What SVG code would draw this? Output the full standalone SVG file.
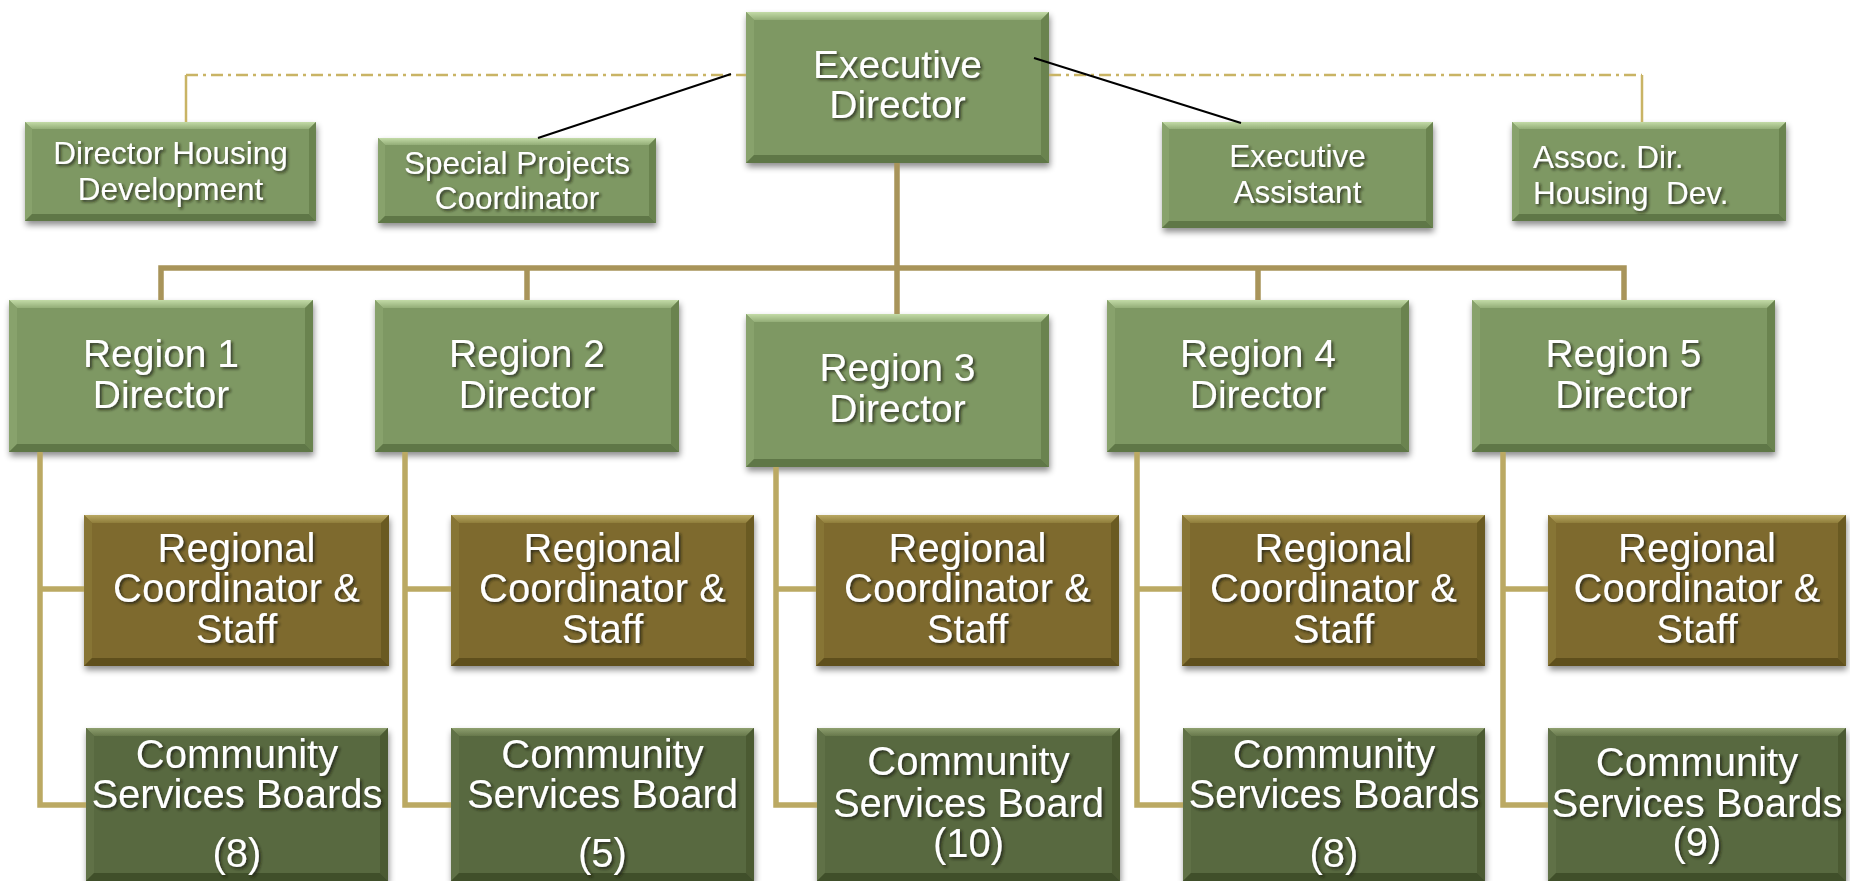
<svg xmlns="http://www.w3.org/2000/svg" width="1850" height="881" viewBox="0 0 1850 881">
<defs>
<linearGradient id="gTopG" x1="0" y1="0" x2="0" y2="1"><stop offset="0" stop-color="#c3dba7"/><stop offset="1" stop-color="#93ad77"/></linearGradient>
<linearGradient id="gTopO" x1="0" y1="0" x2="0" y2="1"><stop offset="0" stop-color="#b9a862"/><stop offset="1" stop-color="#8f7d3b"/></linearGradient>
<linearGradient id="gTopD" x1="0" y1="0" x2="0" y2="1"><stop offset="0" stop-color="#8fa070"/><stop offset="1" stop-color="#67784c"/></linearGradient>
<filter id="bs" x="-10%" y="-10%" width="125%" height="130%"><feDropShadow dx="1" dy="4" stdDeviation="3" flood-color="#000" flood-opacity="0.45"/></filter>
<filter id="ts" x="-10%" y="-20%" width="125%" height="150%"><feDropShadow dx="2" dy="2" stdDeviation="1.5" flood-color="#1a1a0a" flood-opacity="0.75"/></filter>
<style>
.fg{fill:#7e9863}.tg{fill:url(#gTopG)}.lg{fill:#88a26c}.rg{fill:#6a8350}.bg{fill:#5f7747}
.fo{fill:#7e6b2d}.to{fill:url(#gTopO)}.lo{fill:#877434}.ro{fill:#6b5a22}.bo{fill:#5f4f1b}
.fd{fill:#59693f}.td{fill:url(#gTopD)}.ld{fill:#617146}.rd{fill:#4b5a33}.bd{fill:#414f2b}
text{font-family:"Liberation Sans",Arial,sans-serif;fill:#fff;text-anchor:middle;filter:url(#ts)}
.s31{font-size:31.5px}.s39{font-size:39px}.s40{font-size:40px}
.bus{fill:none;stroke:#a8945a;stroke-width:5.5;stroke-linejoin:miter}
.sub{fill:none;stroke:#bba963;stroke-width:5.5;stroke-linejoin:miter}
.dd{fill:none;stroke:#c9b465;stroke-width:2.5;stroke-dasharray:12 5 3 5}
.thin{fill:none;stroke:#c9b465;stroke-width:2.5}
.blk{fill:none;stroke:#000;stroke-width:2}
</style>
</defs>
<rect width="1850" height="881" fill="#fff"/>

<g id="exec-director" transform="translate(746,12)">
<g filter="url(#bs)"><rect class="fg" width="303" height="151"/><polygon class="tg" points="0,0 303,0 295,8 8,8"/><polygon class="lg" points="0,0 8,8 8,143 0,151"/><polygon class="rg" points="303,0 303,151 295,143 295,8"/><polygon class="bg" points="0,151 8,143 295,143 303,151"/></g>
<text class="s39" x="151.5" y="66">Executive</text><text class="s39" x="151.5" y="106">Director</text>
</g>

<g id="dir-housing-dev" transform="translate(25,122)">
<g filter="url(#bs)"><rect class="fg" width="291" height="99"/><polygon class="tg" points="0,0 291,0 284,7 7,7"/><polygon class="lg" points="0,0 7,7 7,92 0,99"/><polygon class="rg" points="291,0 291,99 284,92 284,7"/><polygon class="bg" points="0,99 7,92 284,92 291,99"/></g>
<text class="s31" x="145.5" y="42">Director Housing</text><text class="s31" x="145.5" y="78">Development</text>
</g>

<g id="special-projects" transform="translate(378,138)">
<g filter="url(#bs)"><rect class="fg" width="278" height="85"/><polygon class="tg" points="0,0 278,0 271,7 7,7"/><polygon class="lg" points="0,0 7,7 7,78 0,85"/><polygon class="rg" points="278,0 278,85 271,78 271,7"/><polygon class="bg" points="0,85 7,78 271,78 278,85"/></g>
<text class="s31" x="139" y="36">Special Projects</text><text class="s31" x="139" y="71">Coordinator</text>
</g>

<g id="exec-assistant" transform="translate(1162,122)">
<g filter="url(#bs)"><rect class="fg" width="271" height="106"/><polygon class="tg" points="0,0 271,0 264,7 7,7"/><polygon class="lg" points="0,0 7,7 7,99 0,106"/><polygon class="rg" points="271,0 271,106 264,99 264,7"/><polygon class="bg" points="0,106 7,99 264,99 271,106"/></g>
<text class="s31" x="135.5" y="45">Executive</text><text class="s31" x="135.5" y="81">Assistant</text>
</g>

<g id="assoc-dir" transform="translate(1512,122)">
<g filter="url(#bs)"><rect class="fg" width="274" height="99"/><polygon class="tg" points="0,0 274,0 267,7 7,7"/><polygon class="lg" points="0,0 7,7 7,92 0,99"/><polygon class="rg" points="274,0 274,99 267,92 267,7"/><polygon class="bg" points="0,99 7,92 267,92 274,99"/></g>
<text class="s31" x="21" y="46" style="text-anchor:start">Assoc. Dir.</text><text class="s31" x="21" y="82" style="text-anchor:start;white-space:pre" xml:space="preserve">Housing  Dev.</text>
</g>

<g id="region1" transform="translate(9,300)">
<g filter="url(#bs)"><rect class="fg" width="304" height="152"/><polygon class="tg" points="0,0 304,0 296,8 8,8"/><polygon class="lg" points="0,0 8,8 8,144 0,152"/><polygon class="rg" points="304,0 304,152 296,144 296,8"/><polygon class="bg" points="0,152 8,144 296,144 304,152"/></g>
<text class="s39" x="152" y="67">Region 1</text><text class="s39" x="152" y="108">Director</text>
</g>
<g id="region2" transform="translate(375,300)">
<g filter="url(#bs)"><rect class="fg" width="304" height="152"/><polygon class="tg" points="0,0 304,0 296,8 8,8"/><polygon class="lg" points="0,0 8,8 8,144 0,152"/><polygon class="rg" points="304,0 304,152 296,144 296,8"/><polygon class="bg" points="0,152 8,144 296,144 304,152"/></g>
<text class="s39" x="152" y="67">Region 2</text><text class="s39" x="152" y="108">Director</text>
</g>
<g id="region3" transform="translate(746,314)">
<g filter="url(#bs)"><rect class="fg" width="303" height="153"/><polygon class="tg" points="0,0 303,0 295,8 8,8"/><polygon class="lg" points="0,0 8,8 8,145 0,153"/><polygon class="rg" points="303,0 303,153 295,145 295,8"/><polygon class="bg" points="0,153 8,145 295,145 303,153"/></g>
<text class="s39" x="151.5" y="67">Region 3</text><text class="s39" x="151.5" y="108">Director</text>
</g>
<g id="region4" transform="translate(1107,300)">
<g filter="url(#bs)"><rect class="fg" width="302" height="152"/><polygon class="tg" points="0,0 302,0 294,8 8,8"/><polygon class="lg" points="0,0 8,8 8,144 0,152"/><polygon class="rg" points="302,0 302,152 294,144 294,8"/><polygon class="bg" points="0,152 8,144 294,144 302,152"/></g>
<text class="s39" x="151" y="67">Region 4</text><text class="s39" x="151" y="108">Director</text>
</g>
<g id="region5" transform="translate(1472,300)">
<g filter="url(#bs)"><rect class="fg" width="303" height="152"/><polygon class="tg" points="0,0 303,0 295,8 8,8"/><polygon class="lg" points="0,0 8,8 8,144 0,152"/><polygon class="rg" points="303,0 303,152 295,144 295,8"/><polygon class="bg" points="0,152 8,144 295,144 303,152"/></g>
<text class="s39" x="151.5" y="67">Region 5</text><text class="s39" x="151.5" y="108">Director</text>
</g>

<g id="coord1" transform="translate(84,515)">
<g filter="url(#bs)"><rect class="fo" width="305" height="151"/><polygon class="to" points="0,0 305,0 297,8 8,8"/><polygon class="lo" points="0,0 8,8 8,143 0,151"/><polygon class="ro" points="305,0 305,151 297,143 297,8"/><polygon class="bo" points="0,151 8,143 297,143 305,151"/></g>
<text class="s40" x="152.5" y="47">Regional</text><text class="s40" x="152.5" y="87">Coordinator &amp;</text><text class="s40" x="152.5" y="128">Staff</text>
</g>
<g id="coord2" transform="translate(451,515)">
<g filter="url(#bs)"><rect class="fo" width="303" height="151"/><polygon class="to" points="0,0 303,0 295,8 8,8"/><polygon class="lo" points="0,0 8,8 8,143 0,151"/><polygon class="ro" points="303,0 303,151 295,143 295,8"/><polygon class="bo" points="0,151 8,143 295,143 303,151"/></g>
<text class="s40" x="151.5" y="47">Regional</text><text class="s40" x="151.5" y="87">Coordinator &amp;</text><text class="s40" x="151.5" y="128">Staff</text>
</g>
<g id="coord3" transform="translate(816,515)">
<g filter="url(#bs)"><rect class="fo" width="303" height="151"/><polygon class="to" points="0,0 303,0 295,8 8,8"/><polygon class="lo" points="0,0 8,8 8,143 0,151"/><polygon class="ro" points="303,0 303,151 295,143 295,8"/><polygon class="bo" points="0,151 8,143 295,143 303,151"/></g>
<text class="s40" x="151.5" y="47">Regional</text><text class="s40" x="151.5" y="87">Coordinator &amp;</text><text class="s40" x="151.5" y="128">Staff</text>
</g>
<g id="coord4" transform="translate(1182,515)">
<g filter="url(#bs)"><rect class="fo" width="303" height="151"/><polygon class="to" points="0,0 303,0 295,8 8,8"/><polygon class="lo" points="0,0 8,8 8,143 0,151"/><polygon class="ro" points="303,0 303,151 295,143 295,8"/><polygon class="bo" points="0,151 8,143 295,143 303,151"/></g>
<text class="s40" x="151.5" y="47">Regional</text><text class="s40" x="151.5" y="87">Coordinator &amp;</text><text class="s40" x="151.5" y="128">Staff</text>
</g>
<g id="coord5" transform="translate(1548,515)">
<g filter="url(#bs)"><rect class="fo" width="298" height="151"/><polygon class="to" points="0,0 298,0 290,8 8,8"/><polygon class="lo" points="0,0 8,8 8,143 0,151"/><polygon class="ro" points="298,0 298,151 290,143 290,8"/><polygon class="bo" points="0,151 8,143 290,143 298,151"/></g>
<text class="s40" x="149" y="47">Regional</text><text class="s40" x="149" y="87">Coordinator &amp;</text><text class="s40" x="149" y="128">Staff</text>
</g>

<g id="csb1" transform="translate(86,728)">
<g filter="url(#bs)"><rect class="fd" width="302" height="153"/><polygon class="td" points="0,0 302,0 294,8 8,8"/><polygon class="ld" points="0,0 8,8 8,145 0,153"/><polygon class="rd" points="302,0 302,153 294,145 294,8"/><polygon class="bd" points="0,153 8,145 294,145 302,153"/></g>
<text class="s40" x="151" y="40">Community</text><text class="s40" x="151" y="80">Services Boards</text><text class="s40" x="151" y="139">(8)</text>
</g>
<g id="csb2" transform="translate(451,728)">
<g filter="url(#bs)"><rect class="fd" width="303" height="153"/><polygon class="td" points="0,0 303,0 295,8 8,8"/><polygon class="ld" points="0,0 8,8 8,145 0,153"/><polygon class="rd" points="303,0 303,153 295,145 295,8"/><polygon class="bd" points="0,153 8,145 295,145 303,153"/></g>
<text class="s40" x="151.5" y="40">Community</text><text class="s40" x="151.5" y="80">Services Board</text><text class="s40" x="151.5" y="139">(5)</text>
</g>
<g id="csb3" transform="translate(817,728)">
<g filter="url(#bs)"><rect class="fd" width="303" height="153"/><polygon class="td" points="0,0 303,0 295,8 8,8"/><polygon class="ld" points="0,0 8,8 8,145 0,153"/><polygon class="rd" points="303,0 303,153 295,145 295,8"/><polygon class="bd" points="0,153 8,145 295,145 303,153"/></g>
<text class="s40" x="151.5" y="47">Community</text><text class="s40" x="151.5" y="89">Services Board</text><text class="s40" x="151.5" y="129">(10)</text>
</g>
<g id="csb4" transform="translate(1183,728)">
<g filter="url(#bs)"><rect class="fd" width="302" height="153"/><polygon class="td" points="0,0 302,0 294,8 8,8"/><polygon class="ld" points="0,0 8,8 8,145 0,153"/><polygon class="rd" points="302,0 302,153 294,145 294,8"/><polygon class="bd" points="0,153 8,145 294,145 302,153"/></g>
<text class="s40" x="151" y="40">Community</text><text class="s40" x="151" y="80">Services Boards</text><text class="s40" x="151" y="139">(8)</text>
</g>
<g id="csb5" transform="translate(1548,728)">
<g filter="url(#bs)"><rect class="fd" width="298" height="153"/><polygon class="td" points="0,0 298,0 290,8 8,8"/><polygon class="ld" points="0,0 8,8 8,145 0,153"/><polygon class="rd" points="298,0 298,153 290,145 290,8"/><polygon class="bd" points="0,153 8,145 290,145 298,153"/></g>
<text class="s40" x="149" y="48">Community</text><text class="s40" x="149" y="89">Services Boards</text><text class="s40" x="149" y="128">(9)</text>
</g>

<g id="connectors">
<path class="dd" d="M186,75 H746 M1049,75 H1642"/>
<path class="thin" d="M186,75 V122 M1642,75 V122"/>
<path class="blk" d="M538,138 L731,74 M1034,58 L1241,123"/>
<path class="bus" d="M897,163 V268 M161,300 V268 H1624 V300 M527,268 V300 M897,268 V314 M1258,268 V300"/>
<path class="sub" d="M40,452 V805 H86 M40,589 H84 M405,452 V805 H451 M405,589 H451 M776,467 V805 H817 M776,589 H816 M1137,452 V805 H1183 M1137,589 H1182 M1503,452 V805 H1548 M1503,589 H1548"/>
</g>
</svg>
